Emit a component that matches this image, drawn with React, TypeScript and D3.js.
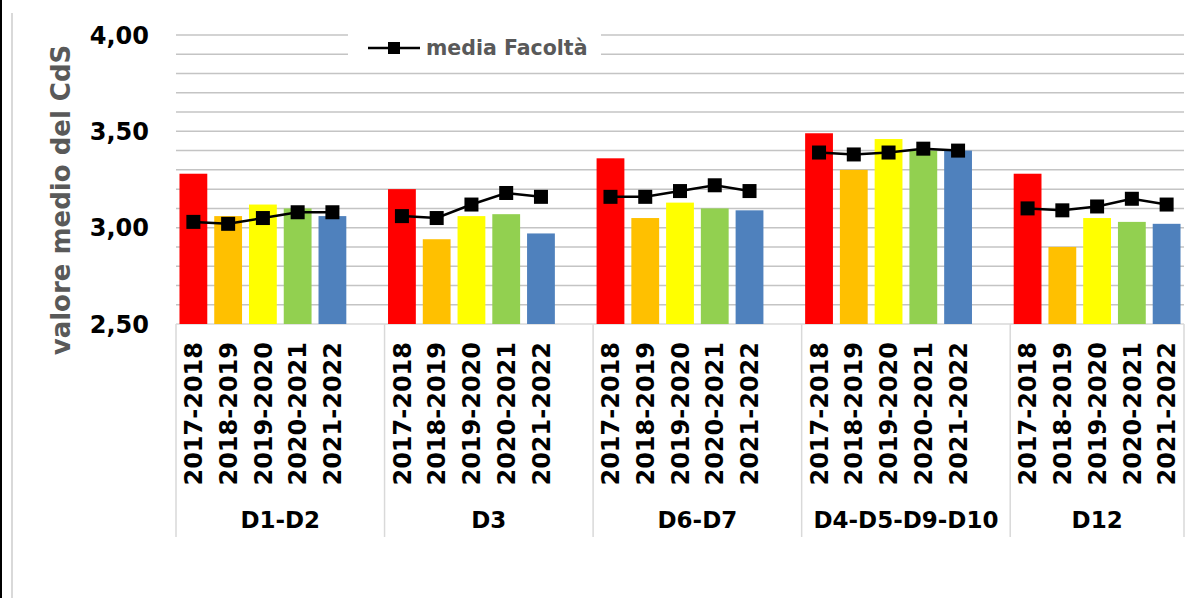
import { useEffect, useRef } from 'react';
import * as d3 from 'd3';

// dati
const groups = ['D1-D2', 'D3', 'D6-D7', 'D4-D5-D9-D10', 'D12'];
const years = ['2017-2018', '2018-2019', '2019-2020', '2020-2021', '2021-2022'];
const yearColors = ['#FF0000', '#FFC000', '#FFFF00', '#92D050', '#4F81BD'];

const cdsValues = [
    [3.28, 3.06, 3.12, 3.1, 3.06],
    [3.2, 2.94, 3.06, 3.07, 2.97],
    [3.36, 3.05, 3.13, 3.1, 3.09],
    [3.49, 3.3, 3.46, 3.4, 3.4],
    [3.28, 2.9, 3.05, 3.03, 3.02],
];

const facultyMean = [
    [3.03, 3.02, 3.05, 3.08, 3.08],
    [3.06, 3.05, 3.12, 3.18, 3.16],
    [3.16, 3.16, 3.19, 3.22, 3.19],
    [3.39, 3.38, 3.39, 3.41, 3.4],
    [3.1, 3.09, 3.11, 3.15, 3.12],
];

const yTicks = [2.5, 3.0, 3.5, 4.0];

const App = () => {
    const ref = useRef(null);
    const width = 1198,
        height = 598;
    const font = 'DejaVu Sans, Verdana, sans-serif';

    useEffect(() => {
        const svg = d3.select(ref.current).attr('width', width).attr('height', height);
        svg.selectAll('*').remove();

        const left = 176,
            right = 1184,
            top = 35,
            bottom = 324;

        const y = d3.scaleLinear().domain([2.5, 4]).range([bottom, top]);

        // una categoria per anno, con uno slot vuoto tra i gruppi (come in Excel)
        const slots = [];
        groups.forEach((g, gi) => {
            years.forEach((yr) => slots.push(`${g}|${yr}`));
            if (gi < groups.length - 1) slots.push(`${g}|gap`);
        });
        const x = d3.scaleBand().domain(slots).range([left, right]).paddingInner(0.2).paddingOuter(0.1);
        const step = x.step();
        const groupStart = (gi) => left + gi * 6 * step;
        const groupEnd = (gi) => Math.min(left + (gi * 6 + 6) * step, right);
        const cx = (g, yr) => x(`${g}|${yr}`) + x.bandwidth() / 2;

        // cornice
        svg.append('rect').attr('x', 0).attr('y', 0).attr('width', 2).attr('height', height).attr('fill', '#000');
        svg.append('line')
            .attr('x1', 12).attr('x2', 12).attr('y1', 13).attr('y2', height)
            .attr('stroke', '#d9d9d9').attr('stroke-width', 2);

        // griglia ogni 0,1
        const grid = d3.range(2.6, 4.001, 0.1);
        svg.append('g')
            .selectAll('line')
            .data(grid)
            .enter()
            .append('line')
            .attr('x1', left)
            .attr('x2', right)
            .attr('y1', (d) => y(d))
            .attr('y2', (d) => y(d))
            .attr('stroke', '#c4c4c4')
            .attr('stroke-width', 1.5);

        // etichette asse y
        svg.append('g')
            .selectAll('text')
            .data(yTicks)
            .enter()
            .append('text')
            .attr('x', 149)
            .attr('y', (d) => y(d))
            .attr('dy', '0.36em')
            .attr('text-anchor', 'end')
            .attr('font-family', font)
            .attr('font-weight', 'bold')
            .attr('font-size', '24px')
            .attr('fill', '#000')
            .text((d) => d.toFixed(2).replace('.', ','));

        svg.append('text')
            .attr('transform', `translate(70,${200}) rotate(-90)`)
            .attr('text-anchor', 'middle')
            .attr('font-family', font)
            .attr('font-weight', 'bold')
            .attr('font-size', '26px')
            .attr('fill', '#595959')
            .text('valore medio del CdS');

        // asse categorie
        svg.append('line')
            .attr('x1', left).attr('x2', right).attr('y1', bottom).attr('y2', bottom)
            .attr('stroke', '#d9d9d9').attr('stroke-width', 1.5);
        const seps = [...groups.map((g, gi) => groupStart(gi)), right];
        svg.append('g')
            .selectAll('line')
            .data(seps)
            .enter()
            .append('line')
            .attr('x1', (d) => d)
            .attr('x2', (d) => d)
            .attr('y1', bottom)
            .attr('y2', 537)
            .attr('stroke', '#d9d9d9')
            .attr('stroke-width', 1.5);

        groups.forEach((g, gi) => {
            const gr = svg.append('g');

            gr.selectAll('rect.bar')
                .data(cdsValues[gi])
                .enter()
                .append('rect')
                .attr('class', 'bar')
                .attr('x', (d, i) => x(`${g}|${years[i]}`))
                .attr('width', x.bandwidth())
                .attr('y', (d) => y(d))
                .attr('height', (d) => bottom - y(d))
                .attr('fill', (d, i) => yearColors[i]);

            gr.selectAll('text.year')
                .data(years)
                .enter()
                .append('text')
                .attr('class', 'year')
                .attr('transform', (d) => `translate(${cx(g, d)},342) rotate(-90)`)
                .attr('dy', '0.36em')
                .attr('text-anchor', 'end')
                .attr('font-family', font)
                .attr('font-weight', 'bold')
                .attr('font-size', '24px')
                .attr('fill', '#000')
                .text((d) => d);

            gr.append('text')
                .attr('x', (groupStart(gi) + groupEnd(gi)) / 2)
                .attr('y', 528)
                .attr('text-anchor', 'middle')
                .attr('font-family', font)
                .attr('font-weight', 'bold')
                .attr('font-size', '23px')
                .attr('fill', '#000')
                .text(g);

            const line = d3
                .line()
                .x((d, i) => cx(g, years[i]))
                .y((d) => y(d));

            gr.append('path')
                .attr('d', line(facultyMean[gi]))
                .attr('fill', 'none')
                .attr('stroke', '#000')
                .attr('stroke-width', 2.5);

            gr.selectAll('rect.mk')
                .data(facultyMean[gi])
                .enter()
                .append('rect')
                .attr('class', 'mk')
                .attr('x', (d, i) => cx(g, years[i]) - 7)
                .attr('y', (d) => y(d) - 7)
                .attr('width', 14)
                .attr('height', 14)
                .attr('fill', '#000');
        });

        // legenda
        const lg = svg.append('g');
        lg.append('rect').attr('x', 348).attr('y', 26).attr('width', 253).attr('height', 38).attr('fill', '#fff');
        lg.append('line').attr('x1', 368).attr('x2', 420).attr('y1', 48).attr('y2', 48)
            .attr('stroke', '#000').attr('stroke-width', 2.5);
        lg.append('rect').attr('x', 388).attr('y', 42).attr('width', 12).attr('height', 12).attr('fill', '#000');
        lg.append('text')
            .attr('x', 426)
            .attr('y', 55)
            .attr('font-family', font)
            .attr('font-weight', 'bold')
            .attr('font-size', '20.5px')
            .attr('fill', '#595959')
            .text('media Facoltà');
    }, []);

    return <svg ref={ref} style={{ position: 'absolute', left: 0, top: 0, background: '#fff' }}></svg>;
};

export default App;
